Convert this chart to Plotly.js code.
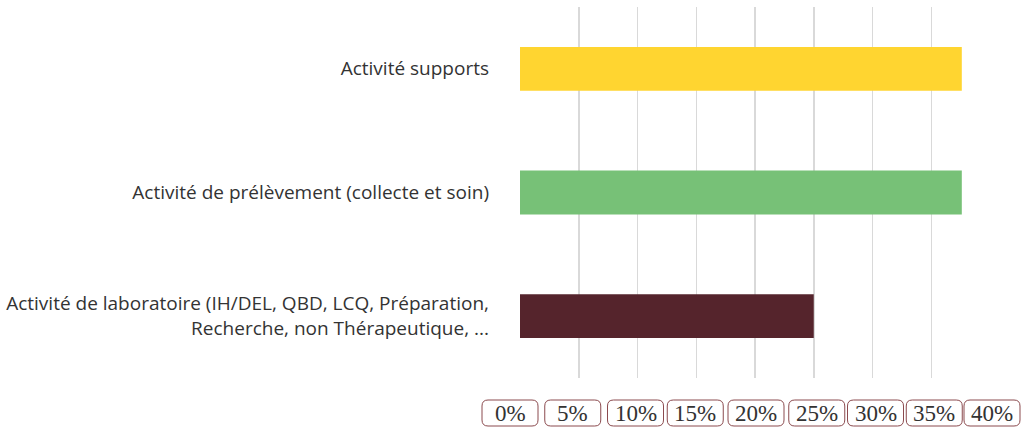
<!DOCTYPE html>
<html>
<head>
<meta charset="utf-8">
<script src="https://cdn.plot.ly/plotly-3.0.1.min.js"></script>
<style>html,body{margin:0;padding:0;background:#fff;}#chart{width:1030px;height:427px;}</style>
</head>
<body>
<div id="chart"></div>
<script>
const categories = [
  "Activité de laboratoire (IH/DEL, QBD, LCQ, Préparation,<br>Recherche, non Thérapeutique, ...",
  "Activité de prélèvement (collecte et soin)",
  "Activité supports"
];
const values = [25.0, 37.6, 37.6];
const barColors = ["#55242C", "#77C177", "#FFD530"];
const tickValues = [0, 5, 10, 15, 20, 25, 30, 35, 40];
const tickLabels = ["0%", "5%", "10%", "15%", "20%", "25%", "30%", "35%", "40%"];
const tickShift = [-10, -6, -2, -1, 1, 3, 3, 3, 2];
const xRange = [0, 40];

const toPaper = v => (v - xRange[0]) / (xRange[1] - xRange[0]);

const annotations = tickValues.map((v, i) => ({
  x: toPaper(v), xref: 'paper', xanchor: 'center',
  y: 0, yref: 'paper', yanchor: 'middle', yshift: -35,
  xshift: tickShift[i],
  text: tickLabels[i], showarrow: false,
  font: {family: 'Liberation Serif, serif', size: 23, color: '#333'}
}));

function roundRect(cx, cy, w, h, r) {
  const x0 = cx - w / 2, x1 = cx + w / 2, y0 = cy - h / 2, y1 = cy + h / 2;
  return `M${x0 + r},${y0} L${x1 - r},${y0} Q${x1},${y0} ${x1},${y0 + r} L${x1},${y1 - r} Q${x1},${y1} ${x1 - r},${y1} L${x0 + r},${y1} Q${x0},${y1} ${x0},${y1 - r} L${x0},${y0 + r} Q${x0},${y0} ${x0 + r},${y0} Z`;
}
const shapes = tickValues.map((v, i) => ({
  type: 'path', xref: 'paper', yref: 'paper',
  xsizemode: 'pixel', ysizemode: 'pixel',
  xanchor: toPaper(v), yanchor: 0,
  path: roundRect(tickShift[i], -35, 56, 26, 6),
  line: {color: '#8B4A4E', width: 1}, fillcolor: 'rgba(0,0,0,0)'
}));

Plotly.newPlot('chart', [{
  type: 'bar', orientation: 'h',
  x: values, y: categories,
  marker: {color: barColors},
  width: 0.355, hoverinfo: 'none'
}], {
  width: 1030, height: 427,
  margin: {l: 520, r: 40, t: 7, b: 49},
  paper_bgcolor: '#fff', plot_bgcolor: '#fff',
  showlegend: false,
  xaxis: {
    range: xRange, tickvals: tickValues, showticklabels: false,
    showgrid: true, gridcolor: '#d9d9d9', gridwidth: 1.5,
    zeroline: false, showline: false, ticks: ''
  },
  yaxis: {
    type: 'category', showgrid: false, zeroline: false, showline: false,
    ticks: '', ticklabelstandoff: 30,
    tickfont: {family: 'Open Sans, sans-serif', size: 19, color: '#333'}
  },
  annotations: annotations,
  shapes: shapes
}, {staticPlot: true});
</script>
</body>
</html>
